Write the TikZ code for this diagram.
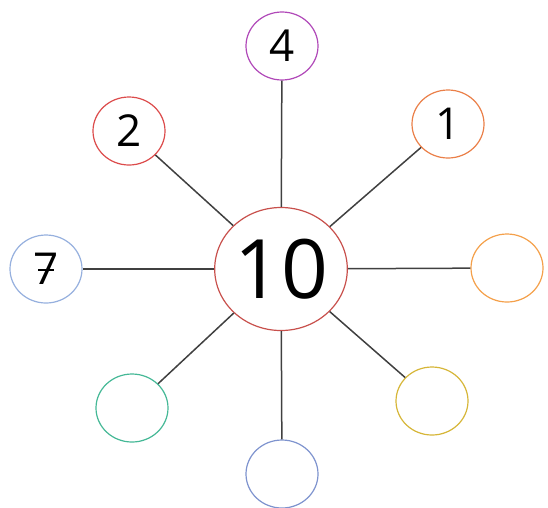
\documentclass[tikz,border=0pt]{standalone}
\usepackage{fontspec}
\setmainfont{Open Sans}
\usetikzlibrary{shapes.geometric}
\definecolor{rouge}{HTML}{C8504C}
\definecolor{rougeclair}{HTML}{DC4B4B}
\definecolor{violet}{HTML}{B048B8}
\definecolor{orange}{HTML}{EA7F48}
\definecolor{orangeclair}{HTML}{F4A04A}
\definecolor{jaune}{HTML}{D6B638}
\definecolor{bleu}{HTML}{7E93CE}
\definecolor{vert}{HTML}{45B896}
\definecolor{bleuclair}{HTML}{96B0DE}
\definecolor{trait}{HTML}{404040}
\begin{document}
\begin{tikzpicture}[x=1pt, y=-1pt,
  bulle/.style = {ellipse, draw, line width=1.2pt, minimum width=72pt,
    minimum height=68pt, inner sep=0pt, font=\fontsize{44}{44}\selectfont},
  centre/.style = {ellipse, draw=rouge, line width=1.2pt, minimum width=130pt,
    minimum height=123pt, inner sep=0pt, font=\fontsize{82}{82}\selectfont},
  lien/.style = {draw=trait, line width=1.5pt}]
  \useasboundingbox (0,0) rectangle (548,507);

  % Le centre
  \node[centre] (c) at (281,269) {10};

  % Les bulles
  \node[bulle, draw=violet] (n4) at (282,46) {4};
  \node[bulle, draw=rougeclair] (n2) at (129,131) {2};
  \node[bulle, draw=orange] (n1) at (448,124) {1};
  \node[bulle, draw=bleuclair] (n7) at (46,269) {7};
  \node[bulle, draw=orangeclair] (e1) at (507,268) {};   % vide
  \node[bulle, draw=jaune] (e2) at (432,401) {};         % vide
  \node[bulle, draw=bleu] (e3) at (282,474) {};          % vide
  \node[bulle, draw=vert] (e4) at (132,408) {};          % vide

  % Le trait du 7
  \draw[line width=2.4pt] ([xshift=-8pt, yshift=-1pt]n7.center)
    -- ([xshift=8pt, yshift=-1pt]n7.center);

  % Les traits
  \foreach \n in {n4, n2, n1, n7, e1, e2, e3, e4}
    \path[lien] (c) -- (\n);
\end{tikzpicture}
\end{document}
